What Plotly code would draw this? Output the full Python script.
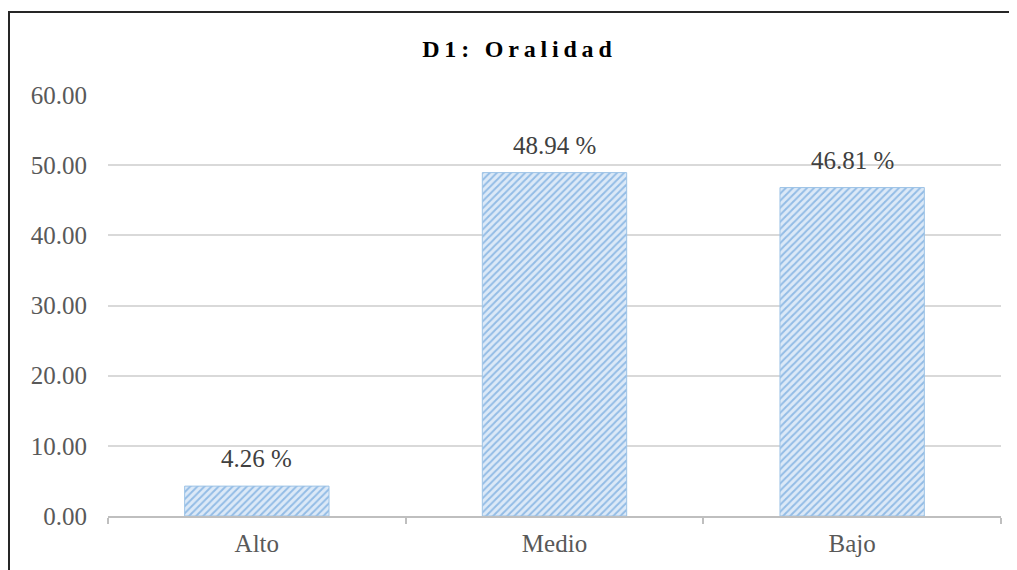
# D1: Oralidad - bar chart, Excel-like styling with hatched bars

import plotly.graph_objects as go

categories = ["Alto", "Medio", "Bajo"]
values = [4.26, 48.94, 46.81]
y_ticks = [0, 10, 20, 30, 40, 50, 60]

SERIF = "Liberation Serif, Times New Roman, serif"

# page body has an 8px margin, so the figure is sized / placed to compensate
W, H = 1009, 562
L, R, T, B = 100, 16, 87, 54
plot_w = W - L - R
plot_h = H - T - B

# letter-spaced title (thin spaces between characters)
title_txt = "\u2009".join("D1: Oralidad")

fig = go.Figure(
    go.Bar(
        x=categories,
        y=values,
        width=0.485,
        marker=dict(
            color="#dce9f7",
            line=dict(color="#9dc3e6", width=1),
            pattern=dict(shape="/", fgcolor="#4a8fd4", bgcolor="#dce9f7",
                         size=5, solidity=0.4),
        ),
        hoverinfo="skip",
    )
)

# value labels above bars
for c, v in zip(categories, values):
    fig.add_annotation(
        x=c, y=v, text=f"{v:.2f} %", showarrow=False,
        yanchor="bottom", yshift=12,
        font=dict(family=SERIF, size=25, color="#404040"),
    )

fig.update_layout(
    width=W,
    height=H,
    margin=dict(l=L, r=R, t=T, b=B),
    paper_bgcolor="white",
    plot_bgcolor="white",
    showlegend=False,
    title=dict(
        text="<b>" + title_txt + "</b>",
        x=(517 - 8) / W,
        xanchor="center",
        y=1 - (49 - 8) / H,
        yanchor="middle",
        font=dict(family=SERIF, size=24, color="#000000"),
    ),
    font=dict(family=SERIF, size=25, color="#595959"),
)

fig.update_yaxes(
    range=[0, 60],
    tickvals=y_ticks,
    tickformat=".2f",
    showgrid=True,
    gridcolor="#d9d9d9",
    gridwidth=1.5,
    zeroline=False,
    showline=False,
    ticks="",
    ticklabelstandoff=20,
    tickfont=dict(family=SERIF, size=25, color="#595959"),
)

fig.update_xaxes(
    showline=True,
    linecolor="#bfbfbf",
    linewidth=2,
    ticks="outside",
    tickson="boundaries",
    ticklen=6,
    tickwidth=2,
    tickcolor="#bfbfbf",
    showgrid=False,
    ticklabelstandoff=4,
    tickfont=dict(family=SERIF, size=25, color="#595959"),
)

# outer frame of the chart (left/top edges visible, others run off the image)
fig.add_shape(
    type="rect", xref="paper", yref="paper",
    x0=(1 - L) / plot_w, x1=1.1, y0=-0.3, y1=(plot_h + T - 4) / plot_h,
    line=dict(color="#262626", width=2), fillcolor="rgba(0,0,0,0)",
    layer="below",
)

fig.write_html("out.html")
